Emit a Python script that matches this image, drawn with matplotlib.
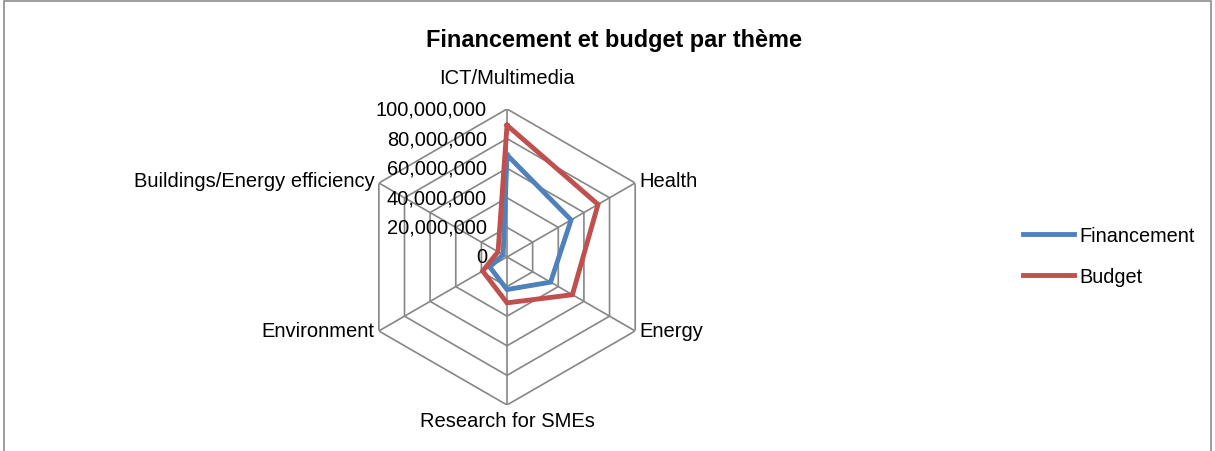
import numpy as np
import matplotlib.pyplot as plt
from matplotlib.patches import Rectangle
from matplotlib.transforms import offset_copy

plt.rcParams['font.family'] = ['Liberation Sans', 'DejaVu Sans']

# Données
themes = ["ICT/Multimedia", "Health", "Energy", "Research for SMEs",
          "Environment", "Buildings/Energy efficiency"]
financement = [69e6, 50e6, 34e6, 22e6, 13.5e6, 3e6]
budget = [89e6, 71e6, 51e6, 31e6, 19e6, 7e6]
ticks = [0, 20e6, 40e6, 60e6, 80e6, 100e6]
tick_labels = ["0", "20,000,000", "40,000,000", "60,000,000", "80,000,000", "100,000,000"]

bleu = "#4F81BD"
rouge = "#C0504D"
gris = "#868686"

n = len(themes)
angles = np.linspace(0, 2 * np.pi, n, endpoint=False)
ang = np.append(angles, angles[0])

fig = plt.figure(figsize=(12.15, 4.52), dpi=100)
fig.patches.append(Rectangle((0.003, -0.01), 0.994, 1.005, transform=fig.transFigure,
                             fill=False, edgecolor="#8c8c8c", lw=1.2))

ax = fig.add_axes([0.2955, 0.1018, 0.2436, 0.6549], projection="polar")
ax.set_theta_offset(np.pi / 2)
ax.set_theta_direction(-1)
ax.set_ylim(0, 100e6)
ax.grid(False)
ax.spines["polar"].set_visible(False)
ax.set_xticks([])
ax.set_yticks([])
ax.patch.set_alpha(0)

# grille hexagonale
for t in ticks[1:]:
    ax.plot(ang, [t] * (n + 1), color=gris, lw=1.2, zorder=1)
for a in angles:
    ax.plot([a, a], [0, ticks[-1]], color=gris, lw=1.2, zorder=1)

ax.plot(ang, financement + financement[:1], color=bleu, lw=3.5, zorder=3,
        label="Financement", solid_joinstyle="miter")
ax.plot(ang, budget + budget[:1], color=rouge, lw=3.5, zorder=3,
        label="Budget", solid_joinstyle="miter")

# étiquettes de l'axe
tr = offset_copy(ax.transData, fig=fig, x=-20, y=0, units="dots")
for t, lab in zip(ticks, tick_labels):
    ax.text(0, t, lab, transform=tr, ha="right", va="center", fontsize=14.4)

# étiquettes des thèmes
pos = [(0, 22, "center", "bottom"), (4, 2, "left", "center"), (4, 0, "left", "center"),
       (0, -6, "center", "top"), (-4, 0, "right", "center"), (-4, 2, "right", "center")]
for a, lab, (dx, dy, ha, va) in zip(angles, themes, pos):
    trl = offset_copy(ax.transData, fig=fig, x=dx, y=dy, units="dots")
    ax.text(a, ticks[-1], lab, transform=trl, ha=ha, va=va, fontsize=14.5)

fig.text(0.505, 0.91, "Financement et budget par thème", ha="center", va="center",
         fontsize=16.9, fontweight="bold")

fig.legend(loc="center left", bbox_to_anchor=(0.827, 0.431), frameon=False,
           fontsize=14.3, handlelength=2.6, handletextpad=0.25, labelspacing=1.1)

fig.savefig("out.png", dpi=100)
